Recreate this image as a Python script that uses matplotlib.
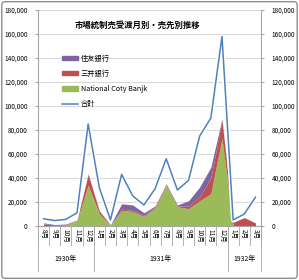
import numpy as np
import matplotlib
matplotlib.use("Agg")
import matplotlib.pyplot as plt
import matplotlib.patheffects as pe
from matplotlib.patches import Patch, FancyBboxPatch
from matplotlib.lines import Line2D
from matplotlib.ticker import FuncFormatter

plt.rcParams['font.family'] = ['Noto Sans CJK JP', 'DejaVu Sans']

# data
months = ['8月', '9月', '10月', '11月', '12月',
          '1月', '2月', '3月', '4月', '5月', '6月', '7月', '8月', '9月', '10月', '11月', '12月',
          '1月', '2月', '3月']
years = ['1930年', '1931年', '1932年']
year_sizes = [5, 12, 3]

ncb = [300, 200, 800, 4500, 34000,
       10000, 500, 13000, 12000, 8000, 15000, 34000, 16000, 14500, 21000, 27000, 73000,
       500, 0, 0]
mitsui = [1500, 600, 500, 300, 9000,
          2000, 300, 1000, 1000, 1000, 700, 700, 700, 2000, 3500, 13000, 15000,
          2500, 7000, 2500]
sumitomo = [800, 400, 300, 200, 500,
            800, 200, 4500, 4500, 2000, 1000, 500, 800, 4500, 8000, 9000, 1500,
            0, 0, 0]
total = [6000, 4500, 5500, 11000, 85000,
         32000, 5000, 43000, 25000, 17500, 31000, 56000, 30000, 38000, 75000, 90000, 158000,
         5000, 10000, 24000]

c_green = '#9BBB59'
c_red = '#C0504D'
c_purple = '#8064A2'
c_blue = '#4F81BD'
grid_c = '#D9D9D9'
axis_c = '#A6A6A6'

fig = plt.figure(figsize=(2.99, 2.80), dpi=100)
ax = fig.add_axes([0.127, 0.193, 0.746, 0.771])

x = np.arange(len(months))
g = np.array(ncb)
r = g + np.array(mitsui)
p = r + np.array(sumitomo)

ax.fill_between(x, 0, g, color=c_green, lw=0, zorder=2)
ax.fill_between(x, g, r, color=c_red, lw=0, zorder=2)
ax.fill_between(x, r, p, color=c_purple, lw=0, zorder=2)
ax.plot(x, total, color=c_blue, lw=1.1, zorder=3,
        path_effects=[pe.Stroke(linewidth=3.2, foreground='white'), pe.Normal()])

ax.set_xlim(-0.5, len(months) - 0.5)
ax.set_ylim(0, 180000)
ax.set_yticks(np.arange(0, 180001, 20000))
fmt = FuncFormatter(lambda v, pos: '{:,.0f}'.format(v))
ax.yaxis.set_major_formatter(fmt)
ax.tick_params(axis='y', labelsize=4.6, length=2.5, color=axis_c, pad=5,
               right=True, labelright=True)
ax.set_xticks([])
ax.grid(axis='y', color=grid_c, lw=0.8, zorder=0)
ax.set_axisbelow(True)
for s in ['left', 'right', 'bottom']:
    ax.spines[s].set_color(axis_c)
    ax.spines[s].set_linewidth(0.8)
ax.spines['top'].set_visible(False)

# category labels and separators
trans = ax.get_xaxis_transform()
for i, m in enumerate(months):
    ax.text(i, -0.012, m, rotation=-90, ha='center', va='top', fontsize=4.6,
            transform=trans)
for i in range(len(months) + 1):
    ax.plot([i - 0.5, i - 0.5], [0, -0.088], color=axis_c, lw=0.6,
            transform=trans, clip_on=False)
start = 0
for yname, n in zip(years, year_sizes):
    ax.plot([start - 0.5, start - 0.5], [0, -0.21], color=axis_c, lw=0.6,
            transform=trans, clip_on=False)
    ax.text(start + (n - 1) / 2, -0.153, yname, ha='center', va='center',
            fontsize=5, transform=trans)
    start += n
ax.plot([start - 0.5, start - 0.5], [0, -0.21], color=axis_c, lw=0.6,
        transform=trans, clip_on=False)

fig.text(0.46, 0.91, '市場統制売受渡月別・売先別推移', ha='center', va='center',
         fontsize=6, fontweight='bold')

handles = [Patch(color=c_purple), Patch(color=c_red), Patch(color=c_green),
           Line2D([], [], color=c_blue, lw=1.1)]
labels = ['住友銀行', '三井銀行', 'National Coty Banjk', '合計']
leg = ax.legend(handles, labels, loc='upper left', bbox_to_anchor=(0.195, 0.818),
                bbox_transform=fig.transFigure, frameon=False, fontsize=5.2,
                handlelength=2.2, handleheight=0.5, labelspacing=1.0,
                handletextpad=0.4, borderpad=0)

fig.patches.append(FancyBboxPatch((0.006, 0.006), 0.988, 0.988,
                                  boxstyle='round,pad=0,rounding_size=0.012',
                                  transform=fig.transFigure, fill=False,
                                  ec='#8C8C8C', lw=1.0))

fig.savefig('out.png', dpi=100)
